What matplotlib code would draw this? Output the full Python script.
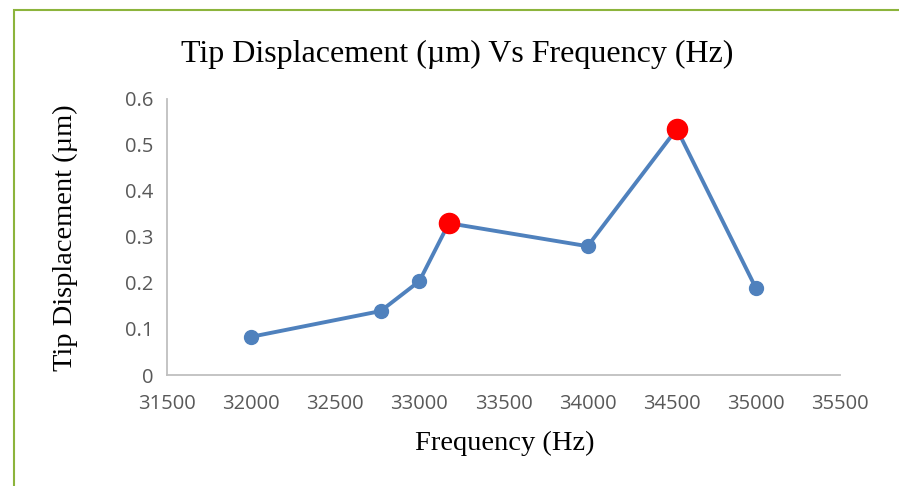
import matplotlib.pyplot as plt
from matplotlib.patches import Rectangle

## data
freq = [32000, 32770, 33000, 33175, 34000, 34530, 35000]
disp = [0.083, 0.139, 0.204, 0.330, 0.280, 0.535, 0.189]
peak_freq = [33175, 34530]
peak_disp = [0.330, 0.535]
xticks = [31500, 32000, 32500, 33000, 33500, 34000, 34500, 35000, 35500]
yticks = [0, 0.1, 0.2, 0.3, 0.4, 0.5, 0.6]
yticklabels = ['0', '0.1', '0.2', '0.3', '0.4', '0.5', '0.6']

W, H = 899, 486
fig = plt.figure(figsize=(W/100, H/100), dpi=100)
## green frame, runs off the right and bottom edges
fig.patches.append(Rectangle((14/W, -0.1), 1.2, 1 - 10/H + 0.1, transform=fig.transFigure,
	fill=False, edgecolor='#8cb43c', linewidth=1.5))

ax = fig.add_axes([167/W, 1 - 375/H, (840-167)/W, (375-99)/H])
ax.plot(freq, disp, color='#4f81bd', linewidth=2.8, marker='o', markersize=10, zorder=2)
ax.plot(peak_freq, peak_disp, linestyle='none', marker='o', markersize=14.5,
	color='#ff0000', zorder=3)

ax.set_xlim(31500, 35500)
ax.set_ylim(0, 0.6)
ax.set_xticks(xticks)
ax.set_yticks(yticks)
ax.set_yticklabels(yticklabels)
tickfont = ['Open Sans', 'DejaVu Sans']
for lab in ax.get_xticklabels() + ax.get_yticklabels():
	lab.set_family(tickfont)
	lab.set_fontsize(14.5)
	lab.set_color('#595959')
ax.tick_params(axis='x', length=0, pad=14)
ax.tick_params(axis='y', length=0, pad=10)
for s in ['top', 'right']:
	ax.spines[s].set_visible(False)
for s in ['left', 'bottom']:
	ax.spines[s].set_color('#bfbfbf')
	ax.spines[s].set_linewidth(1.3)

serif = ['Liberation Serif', 'DejaVu Serif']
fig.text(457/W, 1 - 54/H, 'Tip Displacement (\u00b5m) Vs Frequency (Hz)', family=serif,
	fontsize=23, ha='center', va='center')
fig.text(505/W, 1 - 443/H, 'Frequency (Hz)', family=serif, fontsize=20.5,
	ha='center', va='center')
fig.text(65/W, 1 - 238/H, 'Tip Displacement (\u00b5m)', family=serif, fontsize=20.5,
	ha='center', va='center', rotation=90)

fig.savefig('out.png', dpi=100)
